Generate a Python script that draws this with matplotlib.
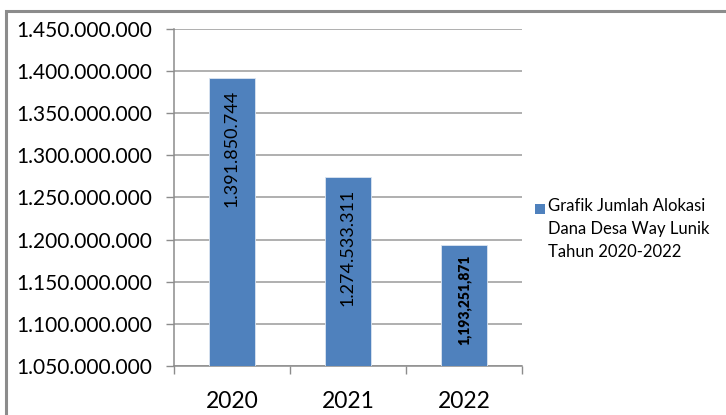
import matplotlib.pyplot as plt
from matplotlib.patches import Rectangle
from matplotlib.ticker import FuncFormatter

years = ['2020', '2021', '2022']
values = [1391850744, 1274533311, 1193251871]
value_labels = ['1.391.850.744', '1.274.533.311', '1,193,251,871']
legend_label = 'Grafik Jumlah Alokasi\nDana Desa Way Lunik\nTahun 2020-2022'

plt.rcParams['font.family'] = ['Lato', 'DejaVu Sans']

W, H = 726, 415
fig = plt.figure(figsize=(W / 100, H / 100), dpi=100)
ax = fig.add_axes([174/W, 1 - 366/H, (522-174)/W, (366-29)/H])

# outer chart frame
fig.patches.append(Rectangle((6/W, -0.05), 1.1, 1 - 11/H + 0.05, transform=fig.transFigure,
                             fill=False, edgecolor='#8c8c8c', linewidth=2.2))

x = range(len(years))
ax.bar(x, values, width=0.4, color='#4F81BD', edgecolor='#dbe5f1', linewidth=0.6, zorder=3)

ax.set_ylim(1050000000, 1450000000)
ax.set_xlim(-0.5, 2.5)
ax.set_yticks(range(1050000000, 1450000001, 50000000))
ax.yaxis.set_major_formatter(FuncFormatter(lambda v, p: f'{int(v):,}'.replace(',', '.')))
ax.grid(axis='y', color='#9a9a9a', linewidth=1.1, zorder=0)

ax.set_xticks(list(x))
ax.set_xticklabels(years, fontsize=16.5)
ax.set_xticks([-0.5, 0.5, 1.5, 2.5], minor=True)
ax.tick_params(axis='x', which='major', length=0, pad=18)
ax.tick_params(axis='x', which='minor', length=6, color='#8c8c8c', width=1)
ax.tick_params(axis='y', length=6, color='#8c8c8c', width=1, labelsize=15, pad=10)

for s in ['top', 'right']:
    ax.spines[s].set_visible(False)
for s in ['left', 'bottom']:
    ax.spines[s].set_color('#8c8c8c')
    ax.spines[s].set_linewidth(1.1)

# value labels inside bars
for i, (v, lab) in enumerate(zip(values, value_labels)):
    if i < 2:
        ax.annotate(lab, (i, v), xytext=(0, -12), textcoords='offset pixels', rotation=90,
                    ha='center', va='top', fontsize=13, color='black', zorder=4)
    else:
        ax.annotate(lab, (i, v), xytext=(0, -9), textcoords='offset pixels', rotation=90,
                    ha='center', va='top', fontsize=10, fontweight='heavy', color='black', zorder=4)

# legend drawn by hand so the marker sits at the first line
fig.patches.append(Rectangle((535/W, 1 - 214/H), 10/W, 10/H, transform=fig.transFigure,
                             facecolor='#4F81BD', edgecolor='none'))
fig.text(548/W, 1 - 198/H, legend_label, fontsize=12, va='top', ha='left', linespacing=1.55)

fig.savefig('out.png', dpi=100)
